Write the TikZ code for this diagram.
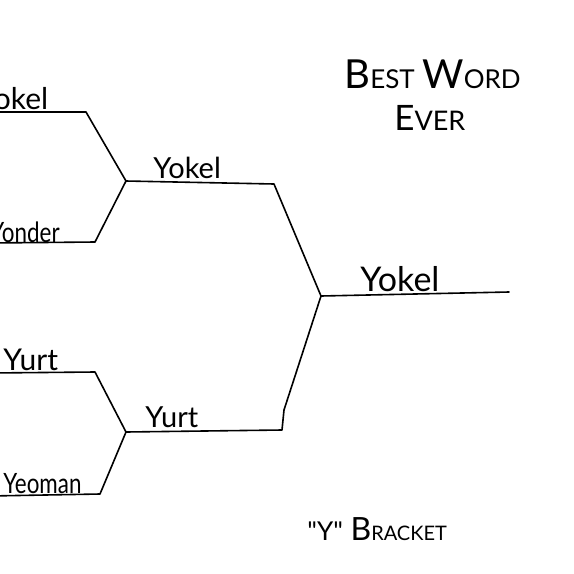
\documentclass[tikz,border=0pt]{standalone}
\usepackage{fontspec}
\setmainfont{Lato}[Ligatures=TeXOff]
\usetikzlibrary{positioning}

% fake small caps: big first letter, small rest
\newcommand{\scword}[4]{{\fontsize{#1}{#1}\selectfont #3}{\fontsize{#2}{#2}\selectfont #4}}

\tikzset{
  wire/.style={line width=0.8pt, line join=round, line cap=round},
  entrant/.style={anchor=base west, inner sep=0pt, font=\fontsize{15}{15}\selectfont},
  narrow/.style={entrant, font=\fontsize{14}{14}\selectfont\addfontfeatures{FakeStretch=0.8}},
  winner/.style={entrant, font=\fontsize{14.5}{15}\selectfont},
  champ/.style={entrant, font=\fontsize{17}{18}\selectfont},
}

\begin{document}
\begin{tikzpicture}[x=0.5pt, y=-0.5pt]
  \useasboundingbox (0,0) rectangle (574,574);
  \clip (0,0) rectangle (574,574);

  % 1回戦の端点
  \coordinate (A0) at (-10,112);  \coordinate (A1) at (86,112);
  \coordinate (B0) at (-10,243);  \coordinate (B1) at (95,242);
  \coordinate (C0) at (-10,373);  \coordinate (C1) at (95,372);
  \coordinate (D0) at (-10,496);  \coordinate (D1) at (100,494);

  % 合流点
  \coordinate (J1) at (126,181);
  \coordinate (J2) at (126,432);
  \coordinate (JF) at (321,296);

  % 2回戦と決勝
  \coordinate (E1) at (274,184);
  \coordinate (F1) at (282,430);
  \coordinate (F2) at (284,410);
  \coordinate (G1) at (509,292);

  % Bracket lines
  \draw[wire] (A0) -- (A1) -- (J1);
  \draw[wire] (B0) -- (B1) -- (J1);
  \draw[wire] (C0) -- (C1) -- (J2);
  \draw[wire] (D0) -- (D1) -- (J2);
  \draw[wire] (J1) -- (E1) -- (JF);
  \draw[wire] (J2) -- (F1) -- (F2) -- (JF);
  \draw[wire] (JF) -- (G1);

  % 出場者
  \node[entrant] (yokel) at (-22,109) {Yokel};
  \node[narrow] (yonder) at (-10,242) {Yonder};
  \node[entrant] (yurt) at (3,370) {Yurt};
  \node[narrow] (yeoman) at (3,493) {Yeoman};

  % 勝者
  \node[winner] (semiA) at (153,178) {Yokel};
  \node[winner] (semiB) at (145,427) {Yurt};
  \node[champ] (final) at (360,291) {Yokel};

  % 見出し
  \node[entrant] (title) at (344,88) {\scword{20}{13}{B}{EST} \scword{20}{13}{W}{ORD}};
  \node[entrant] (ever) at (394,130) {\scword{17.5}{13.5}{E}{VER}};
  \node[entrant] (caption) at (307,540) {\scword{13}{13}{"Y"}{} \scword{16}{10}{B}{RACKET}};
\end{tikzpicture}
\end{document}
